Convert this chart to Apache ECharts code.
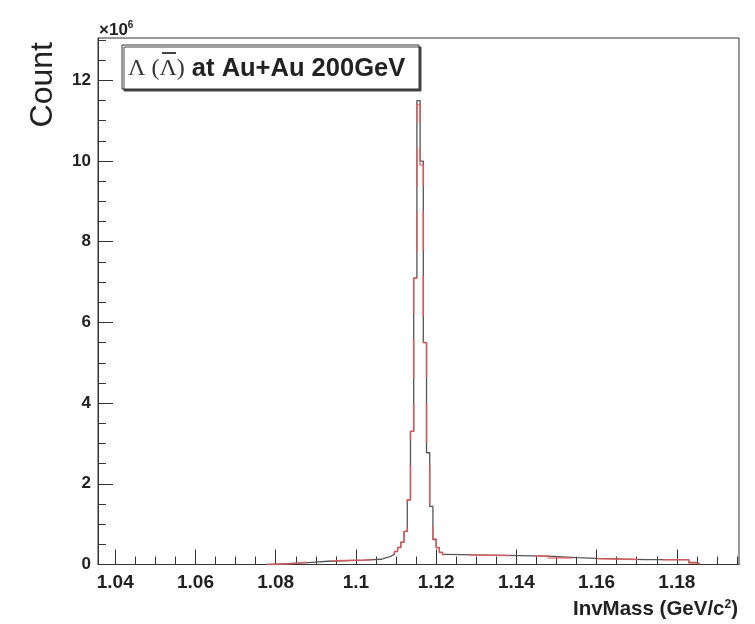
<!DOCTYPE html>
<html>
<head>
<meta charset="utf-8">
<script src="https://cdn.jsdelivr.net/npm/echarts@6/dist/echarts.min.js"></script>
<style>html,body{margin:0;padding:0;background:#fff;}#c{width:755px;height:624px;}</style>
</head>
<body>
<div id="c"></div>
<script>
// ---- data (counts in units of 10^6) ----
const binEdges = [1.0778, 1.0830, 1.0870, 1.0900, 1.0930, 1.1020, 1.1064,
  1.1072, 1.1080, 1.1088, 1.1096, 1.1104, 1.1112, 1.1120, 1.1128, 1.1136, 1.1144,
  1.1152, 1.1160, 1.1168, 1.1176, 1.1184, 1.1192, 1.1200, 1.1208, 1.1216, 1.1224,
  1.1480, 1.1550, 1.1600, 1.1720, 1.1830, 1.1848, 1.1856];
const blackCounts = [0.02, 0.04, 0.06, 0.08, 0.11, 0.13,
  0.16, 0.18, 0.21, 0.25, 0.32, 0.42, 0.55, 0.82, 1.6, 3.3, 7.1,
  11.5, 10.0, 5.5, 2.77, 1.44, 0.62, 0.42, 0.30, 0.25,
  0.21, 0.17, 0.15, 0.12, 0.12, 0.05, 0.02];
const redCounts = [0.01, 0.05, 0.07, 0.09, 0.11, 0.13,
  0.16, 0.19, 0.21, 0.26, 0.33, 0.43, 0.56, 0.82, 1.6, 3.3, 7.1,
  11.4, 9.9, 5.5, 2.77, 1.44, 0.63, 0.42, 0.30, 0.24,
  0.21, 0.16, 0.14, 0.12, 0.12, 0.04, 0.01];
const xMajorTicks = [1.04, 1.06, 1.08, 1.1, 1.12, 1.14, 1.16, 1.18];
const xMinorTicks = [1.045, 1.05, 1.055, 1.065, 1.07, 1.075, 1.085, 1.09, 1.095,
  1.105, 1.11, 1.115, 1.125, 1.13, 1.135, 1.145, 1.15, 1.155, 1.165, 1.17, 1.175,
  1.185, 1.19, 1.195];
const yMajorTicks = [0, 2, 4, 6, 8, 10, 12];
const xRange = [1.0357, 1.1955];
const yRange = [0, 13.05];

function outline(edges, counts) {
  const pts = [[edges[0], 0]];
  for (let i = 0; i < counts.length; i++) {
    pts.push([edges[i], counts[i]]);
    pts.push([edges[i + 1], counts[i]]);
  }
  pts.push([edges[edges.length - 1], 0]);
  return pts;
}

const FONT = 'Liberation Sans, Arial, sans-serif';
const chart = echarts.init(document.getElementById('c'), null, {renderer: 'canvas'});
const gL = 98, gT = 38, gR = 739, gB = 564.5;

chart.setOption({
  animation: false,
  backgroundColor: '#fff',
  grid: {left: gL, top: gT, width: gR - gL, height: gB - gT,
    show: true, borderColor: '#333', borderWidth: 1, backgroundColor: 'transparent'},
  xAxis: [{
    type: 'value', min: xRange[0], max: xRange[1], gridIndex: 0,
    axisLine: {show: true, lineStyle: {color: '#333', width: 1}},
    splitLine: {show: false},
    axisTick: {show: true, inside: true, length: 15, customValues: xMajorTicks, lineStyle: {color: '#333'}},
    axisLabel: {show: true, customValues: xMajorTicks, margin: 9, color: '#222',
      fontFamily: FONT, fontWeight: 'bold', fontSize: 19,
      formatter: v => String(+v.toFixed(3))}
  }, {
    type: 'value', min: xRange[0], max: xRange[1], gridIndex: 0, position: 'bottom',
    axisLine: {show: false}, splitLine: {show: false},
    axisTick: {show: true, inside: true, length: 8, customValues: xMinorTicks, lineStyle: {color: '#333'}},
    axisLabel: {show: false}
  }],
  yAxis: {
    type: 'value', min: yRange[0], max: yRange[1],
    axisLine: {show: true, lineStyle: {color: '#333', width: 1}},
    splitLine: {show: false},
    axisTick: {show: true, inside: true, length: 15, customValues: yMajorTicks, lineStyle: {color: '#333'}},
    minorTick: {show: true, splitNumber: 4, length: 8, lineStyle: {color: '#333'}},
    interval: 2,
    axisLabel: {show: true, customValues: yMajorTicks, margin: 7, color: '#222',
      fontFamily: FONT, fontWeight: 'bold', fontSize: 17}
  },
  series: [{
    type: 'line', xAxisIndex: 0, data: outline(binEdges, blackCounts), showSymbol: false,
    lineStyle: {color: '#555', width: 1.3}, z: 3, clip: true
  }, {
    type: 'line', xAxisIndex: 0, data: outline(binEdges, redCounts), showSymbol: false,
    lineStyle: {color: 'rgba(240,90,90,0.8)', width: 1.5, type: [40, 25]}, z: 4, clip: true
  }],
  graphic: [
    {type: 'rect', shape: {x: 122, y: 45, width: 297, height: 44}, z: 10,
      style: {fill: '#fff', stroke: '#333', lineWidth: 1, shadowColor: '#444', shadowOffsetX: 2, shadowOffsetY: 2, shadowBlur: 0}},
    {type: 'text', x: 128, y: 69, z: 11,
      style: {text: '{l|Λ (Λ)}{b| at Au+Au 200GeV}', verticalAlign: 'middle', align: 'left',
        rich: {
          l: {fontFamily: 'Liberation Serif, serif', fontSize: 24, fill: '#333', fontWeight: 'normal'},
          b: {fontFamily: FONT, fontSize: 25.5, fontWeight: 'bold', fill: '#222'}
        }}},
    {type: 'line', shape: {x1: 162, y1: 53, x2: 176, y2: 53}, z: 12,
      style: {stroke: '#444', lineWidth: 2}},
    {type: 'text', x: 43, y: 42, rotation: Math.PI / 2, z: 11,
      style: {text: 'Count', align: 'right', verticalAlign: 'middle', fill: '#222',
        font: 'normal 32px Liberation Sans, Arial, sans-serif'}},
    {type: 'text', x: 738, y: 609, z: 11,
      style: {text: '{t|InvMass (GeV/c}{s|2}{t|)}', align: 'right', verticalAlign: 'middle',
        rich: {
          t: {fontFamily: FONT, fontSize: 20.5, fontWeight: 'bold', fill: '#222'},
          s: {fontFamily: FONT, fontSize: 12, fontWeight: 'bold', fill: '#222', verticalAlign: 'top', padding: [0, 0, 9, 0]}
        }}},
    {type: 'text', x: 99, y: 30, z: 11,
      style: {text: '{t|×10}{s|6}', align: 'left', verticalAlign: 'middle',
        rich: {
          t: {fontFamily: FONT, fontSize: 17, fontWeight: 'bold', fill: '#222'},
          s: {fontFamily: FONT, fontSize: 10, fontWeight: 'bold', fill: '#222', padding: [0, 0, 10, 0]}
        }}}
  ]
});
</script>
</body>
</html>
